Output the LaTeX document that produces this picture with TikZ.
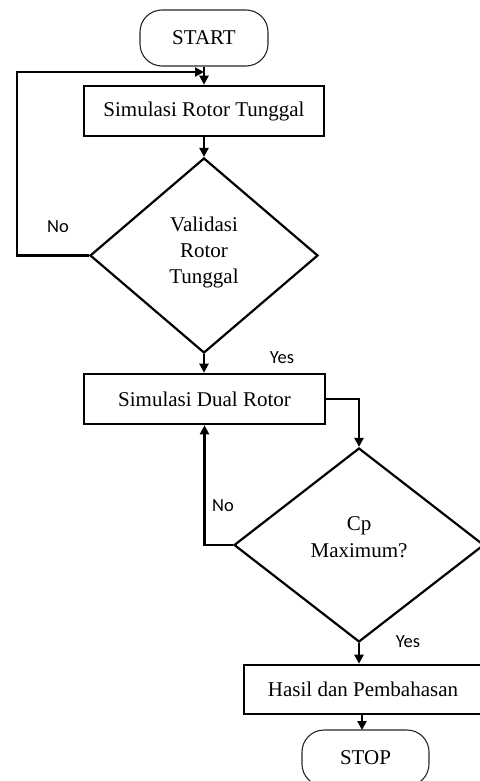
\documentclass[tikz,border=0pt]{standalone}
\usepackage{fontspec}
\setmainfont{Liberation Serif}
\newfontfamily\labfont{Carlito}
\usetikzlibrary{shapes.geometric,arrows.meta}
\begin{document}
\begin{tikzpicture}[x=1pt,y=-1pt,
  term/.style={draw=black!85,line width=1.1pt,rounded corners=22pt,minimum width=128pt,minimum height=56pt,inner sep=0pt,font=\fontsize{21}{25}\selectfont},
  procbox/.style={draw,line width=2.6pt,minimum width=240pt,minimum height=50pt,inner sep=0pt,font=\fontsize{21}{25}\selectfont},
  decide/.style={draw,diamond,line width=2.2pt,inner sep=0pt},
  dtext/.style={align=center,inner sep=0pt,font=\fontsize{21}{26}\selectfont},
  lab/.style={inner sep=0pt,font=\labfont\fontsize{18.5}{22}\selectfont},
  arr/.style={line width=2.2pt,-{Triangle[length=9pt,width=9pt]}}]
\useasboundingbox (0,0) rectangle (479,781);
\node[term] (start) at (204,38) {START};
\node[procbox] (b1) at (204,111) {Simulasi Rotor Tunggal};
\node[decide,minimum width=228pt,minimum height=195pt] (d1) at (204,255.5) {};
\node[dtext] (t1) at (204,252.5) {Validasi\\Rotor\\Tunggal};
\node[procbox,minimum width=241pt] (b2) at (204.5,399) {Simulasi Dual Rotor};
\node[decide,minimum width=250pt,minimum height=194pt] (d2) at (359,545) {};
\node[dtext,font=\fontsize{21}{27}\selectfont] (t2) at (359,537.5) {Cp\\Maximum?};
\node[procbox,minimum width=238pt,minimum height=49pt] (b3) at (363,689.5) {Hasil dan Pembahasan};
\node[term,minimum width=127pt] (stop) at (365.5,758) {STOP};
\coordinate (j1) at (204,72);
\node[lab] (no1) at (58,227) {No};
\node[lab] (yes1) at (282,358) {Yes};
\node[lab] (no2) at (223,506) {No};
\node[lab] (yes2) at (408,642) {Yes};
\draw[arr] (start.south) -- (b1.north);
\draw[arr] (b1.south) -- (d1.north);
\draw[arr] (d1.west) -- ++(-72,0) |- (j1);
\draw[arr] (d1.south) -- (d1.south |- b2.north);
\draw[arr] (b2.east) -| (d2.north);
\draw[arr] (d2.west) -| (b2.south);
\draw[arr] (d2.south) -- (d2.south |- b3.north);
\draw[arr] (362,714) -- (362,730);
\end{tikzpicture}
\end{document}
